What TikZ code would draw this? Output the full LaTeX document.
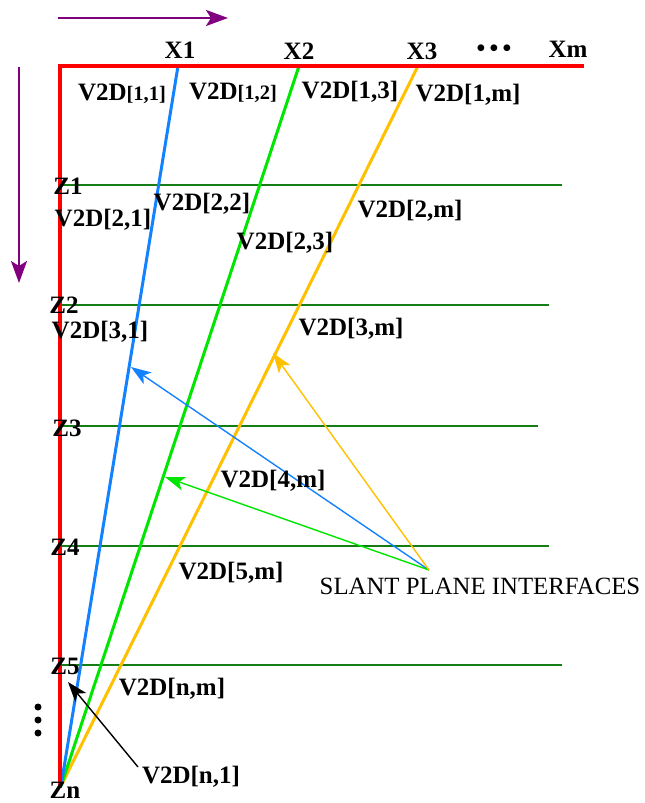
\documentclass[tikz,border=0pt]{standalone}
\usepackage{fontspec}
\setmainfont{Liberation Serif}
\usetikzlibrary{arrows.meta}
\definecolor{cblue}{RGB}{20,130,255}
\definecolor{cgreen}{RGB}{0,230,0}
\definecolor{corange}{RGB}{255,192,0}
\definecolor{cdark}{RGB}{20,125,20}
\definecolor{cpurple}{RGB}{128,0,128}
\definecolor{cred}{RGB}{255,0,0}
\begin{document}
\begin{tikzpicture}[x=1pt,y=-1pt,
  lbl/.style={font=\fontsize{25}{28}\selectfont\bfseries, inner sep=0pt},
  plain/.style={font=\fontsize{24.8}{28}\selectfont, inner sep=0pt},
  slant/.style={line width=3pt},
  level/.style={cdark, line width=1.5pt},
  dot/.style={circle, fill=black, inner sep=0pt, minimum size=7pt},
  pointer/.style={line width=1.4pt, -{Stealth[length=20pt,width=14pt,inset=5pt]}},
  dir/.style={cpurple, line width=2.5pt, -{Stealth[length=22pt,width=16pt,inset=5pt]}}]
\useasboundingbox (0,0) rectangle (645,803);
% direction arrows
\coordinate (hs) at (58,18); \coordinate (he) at (228,18);
\coordinate (vs) at (19,67); \coordinate (ve) at (19,283);
\draw[dir] (hs) -- (he);
\draw[dir] (vs) -- (ve);
% level lines
\coordinate (z1a) at (60,185); \coordinate (z1b) at (562,185);
\coordinate (z2a) at (60,305); \coordinate (z2b) at (549,305);
\coordinate (z3a) at (60,426); \coordinate (z3b) at (538,426);
\coordinate (z4a) at (60,546); \coordinate (z4b) at (549,546);
\coordinate (z5a) at (60,665); \coordinate (z5b) at (562,665);
\draw[level] (z1a) -- (z1b);
\draw[level] (z2a) -- (z2b);
\draw[level] (z3a) -- (z3b);
\draw[level] (z4a) -- (z4b);
\draw[level] (z5a) -- (z5b);
% slant lines
\coordinate (t1) at (178,66); \coordinate (t2) at (299,66); \coordinate (t3) at (418,66);
\coordinate (bot) at (61,786);
\draw[slant, corange] (t3) -- (bot);
\draw[slant, cgreen] (t2) -- (bot);
\draw[slant, cblue] (t1) -- (bot);
% red frame
\coordinate (c0) at (60,66); \coordinate (cr) at (584,66); \coordinate (cb) at (60,788);
\draw[cred, line width=4.5pt] (cr) -- (c0) -- (cb);
% pointers
\coordinate (src) at (429,570);
\coordinate (pb) at (131,367);
\coordinate (pg) at (165,477);
\coordinate (po) at (273,353);
\draw[pointer, cblue] (src) -- (pb);
\draw[pointer, cgreen] (src) -- (pg);
\draw[pointer, corange] (src) -- (po);
% top labels
\node[lbl] (x1) at (180,50) {X1};
\node[lbl] (x2) at (299,51) {X2};
\node[lbl] (x3) at (422,51) {X3};
\node[lbl] (xd) at (494,51) {\textbullet\,\textbullet\,\textbullet};
\node[lbl] (xm) at (568,49) {Xm};
% V2D labels
\node[lbl] (v11) at (122,94) {V2D{\fontsize{20.5}{22}\selectfont[1,1]}};
\node[lbl] (v12) at (233,93) {V2D{\fontsize{20.5}{22}\selectfont[1,2]}};
\node[lbl] (v13) at (350,92) {V2D[1,3]};
\node[lbl] (v1m) at (468,95) {V2D[1,m]};
\node[lbl] (v21) at (103,220) {V2D[2,1]};
\node[lbl] (v22) at (202,204) {V2D[2,2]};
\node[lbl] (v23) at (285,243) {V2D[2,3]};
\node[lbl] (v2m) at (410,211) {V2D[2,m]};
\node[lbl] (v31) at (100,332) {V2D[3,1]};
\node[lbl] (v3m) at (351,329) {V2D[3,m]};
\node[lbl] (v4m) at (273,481) {V2D[4,m]};
\node[lbl] (v5m) at (231,573) {V2D[5,m]};
\node[lbl] (vnm) at (172,689) {V2D[n,m]};
\node[lbl] (vn1) at (191,777) {V2D[n,1]};
% Z labels
\node[lbl] (lz1) at (68,186) {Z1};
\node[lbl] (lz2) at (64,305) {Z2};
\node[lbl] (lz3) at (67,428) {Z3};
\node[lbl] (lz4) at (65,547) {Z4};
\node[lbl] (lz5) at (65,666) {Z5};
\node[lbl] (lzn) at (65,790) {Zn};
% vertical ellipsis
\node[dot] (vd1) at (38,707) {};
\node[dot] (vd2) at (38,720) {};
\node[dot] (vd3) at (38,733) {};
% black pointer
\coordinate (bsrc) at (138,767);
\coordinate (btip) at (68,682);
\draw[pointer, black] (bsrc) -- (btip);
% note
\node[plain] (note) at (480,586) {SLANT PLANE INTERFACES};
\end{tikzpicture}
\end{document}
